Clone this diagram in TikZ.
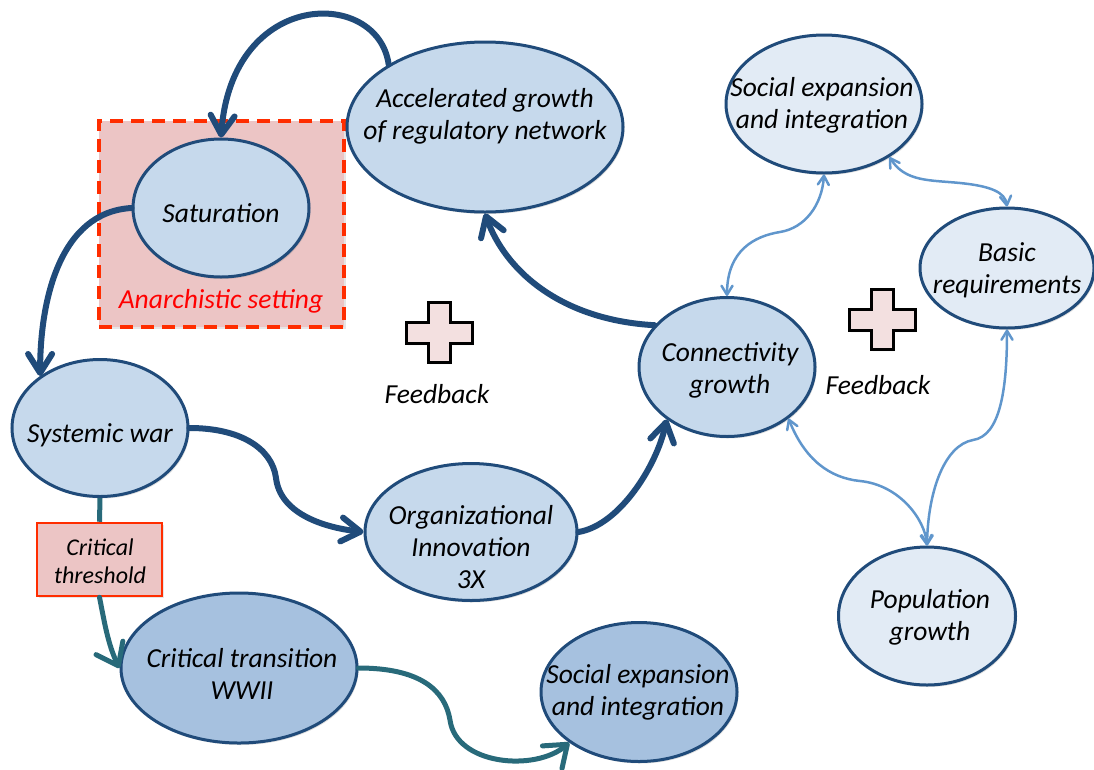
\documentclass[tikz,border=0pt]{standalone}
\usepackage{fontspec}
\setmainfont{Carlito}
\usetikzlibrary{shapes.geometric,arrows.meta,shadows}
\definecolor{darkline}{RGB}{32,75,122}
\definecolor{fillmid}{RGB}{198,217,236}
\definecolor{filllight}{RGB}{226,235,245}
\definecolor{filldark}{RGB}{166,193,223}
\definecolor{tealline}{RGB}{40,106,122}
\definecolor{lightarrow}{RGB}{96,150,204}
\definecolor{pinkfill}{RGB}{236,197,197}
\definecolor{reddash}{RGB}{255,45,0}
\definecolor{plusfill}{RGB}{243,224,224}
\tikzset{
  bubble/.style={ellipse, draw=darkline, line width=3pt, inner sep=0pt,
    drop shadow={shadow xshift=1.5pt, shadow yshift=-2pt, opacity=0.25}},
  lab/.style={font=\fontsize{27.5}{32}\selectfont\itshape, align=center, inner sep=0pt},
  smalllab/.style={font=\fontsize{24}{28}\selectfont\itshape, align=center, inner sep=0pt},
  darkarrow/.style={draw=darkline, line width=6pt, line cap=round,
    -{Straight Barb[length=19pt,width=24pt,round]}},
  tealconn/.style={draw=tealline, line width=5pt},
  tealarrow/.style={draw=tealline, line width=5pt, line cap=round,
    -{Straight Barb[length=20pt,width=30pt,round]}},
  lightconn/.style={draw=lightarrow, line width=2.5pt,
    {Straight Barb[length=9pt,width=11pt,round]}-{Straight Barb[length=9pt,width=11pt,round]}},
  plusbox/.style={draw=black, line width=3pt, fill=plusfill, line join=miter,
    drop shadow={shadow xshift=1.5pt, shadow yshift=-2pt, opacity=0.3}},
  pics/plussign/.style={code={
    \path[plusbox] (-11,-30) -- (11,-30) -- (11,-10) -- (33,-10) -- (33,11) -- (11,11)
      -- (11,30) -- (-11,30) -- (-11,11) -- (-33,11) -- (-33,-10) -- (-11,-10) -- cycle;
  }}
}
\begin{document}
\begin{tikzpicture}[x=1pt,y=-1pt]
\useasboundingbox (0,0) rectangle (1094,769);

% anarchistic setting box
\node[draw=reddash, fill=pinkfill, line width=3.5pt, dash pattern=on 13pt off 8pt,
      minimum width=245pt, minimum height=206pt, inner sep=0pt,
      drop shadow={shadow xshift=1.5pt, shadow yshift=-2pt, opacity=0.2}] (anarch) at (221.5,224) {};
\node[lab, text=red] (anarchT) at (221,301) {Anarchistic setting};

% ellipses
\node[bubble, fill=fillmid, minimum width=276pt, minimum height=170pt] (acc) at (485,127) {};
\node[lab] (accT) at (485,116) {Accelerated growth\\of regulatory network};

\node[bubble, fill=fillmid, minimum width=176pt, minimum height=138pt] (sat) at (221,208) {};
\node[lab] (satT) at (221,213) {Saturation};

\node[bubble, fill=fillmid, minimum width=176pt, minimum height=137pt] (sys) at (100,428) {};
\node[lab] (sysT) at (100,435) {Systemic war};

\node[bubble, fill=fillmid, minimum width=212pt, minimum height=137pt] (org) at (471,532) {};
\node[lab] (orgT) at (471,547) {Organizational\\Innovation\\3X};

\node[bubble, fill=fillmid, minimum width=176pt, minimum height=139pt] (conn) at (727,367) {};
\node[lab] (connT) at (730,370) {Connectivity\\growth};

\node[bubble, fill=filllight, minimum width=196pt, minimum height=138pt] (socT) at (824,104) {};
\node[lab] (socTT) at (822,105) {Social expansion\\and integration};

\node[bubble, fill=filllight, minimum width=174pt, minimum height=120pt] (basic) at (1007,268) {};
\node[lab] (basicT) at (1007,270) {Basic\\requirements};

\node[bubble, fill=filllight, minimum width=177pt, minimum height=138pt] (pop) at (927,616) {};
\node[lab] (popT) at (930,617) {Population\\growth};

\node[bubble, fill=filldark, minimum width=236pt, minimum height=150pt] (crit) at (239,668) {};
\node[lab] (critT) at (242,674) {Critical transition\\WWII};

\node[bubble, fill=filldark, minimum width=196pt, minimum height=139pt] (socB) at (639,692) {};
\node[lab] (socBT) at (638,692) {Social expansion\\and integration};

% critical threshold box
\node[draw=reddash, fill=pinkfill, line width=2.5pt, minimum width=125pt, minimum height=73pt,
      inner sep=0pt, drop shadow={shadow xshift=1.5pt, shadow yshift=-2pt, opacity=0.2}] (thr) at (99.5,559.5) {};
\node[smalllab] (thrT) at (100,561) {Critical\\threshold};

% feedback labels and plus signs
\pic at (439,332) {plussign};
\pic at (882,319) {plussign};
\node[lab] (fb1) at (437,394) {Feedback};
\node[lab] (fb2) at (878,385) {Feedback};

% dark connectors
\draw[darkarrow] (acc.147) .. controls (378,-12) and (232,-12) .. (sat.north);
\draw[darkarrow] (sat.west) .. controls (60,212) and (40,300) .. (sys.139);
\draw[darkarrow] (sys.east) .. controls (240,428) and (272,448) .. (276,478)
                 .. controls (280,512) and (320,527) .. (org.west);
\draw[darkarrow] (org.east) .. controls (620,525) and (657,465) .. (conn.221);
\draw[darkarrow] (conn.150) .. controls (560,320) and (505,270) .. (acc.south);

% teal connectors
\draw[tealconn] (sys.south) -- (thr.north);
\draw[tealarrow] (thr.south) .. controls (104,620) and (108,645) .. (crit.west);
\draw[tealarrow] (crit.east) .. controls (420,668) and (445,690) .. (450,720)
                 .. controls (456,765) and (535,772) .. (socB.216);

% light blue connectors
\draw[lightconn] (conn.north) .. controls (727,250) and (755,236) .. (780,232)
                 .. controls (805,228) and (822,205) .. (socT.south);
\draw[lightconn] (socT.-39) .. controls (905,182) and (930,180) .. (960,183)
                 .. controls (990,186) and (1005,192) .. (basic.north);
\draw[lightconn] (basic.south) .. controls (1007,390) and (1000,436) .. (973,440)
                 .. controls (945,445) and (928,490) .. (pop.north);
\draw[lightconn] (conn.-40) .. controls (805,460) and (830,478) .. (860,481)
                 .. controls (900,485) and (925,520) .. (pop.north);
\end{tikzpicture}
\end{document}
